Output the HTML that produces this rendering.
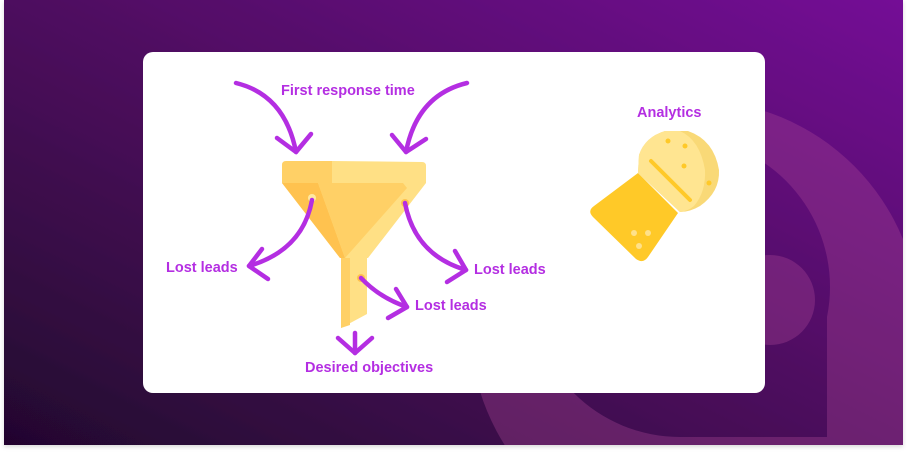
<!DOCTYPE html>
<html><head><meta charset="utf-8"><style>
html,body{margin:0;padding:0;background:#fff;}
body{width:907px;height:453px;overflow:hidden;position:relative;font-family:"Liberation Sans",sans-serif;}
</style></head><body>
<svg width="907" height="453" viewBox="0 0 907 453" style="position:absolute;left:0;top:0">
<defs>
<linearGradient id="bg" x1="0" y1="1" x2="1" y2="0">
<stop offset="0" stop-color="#22062e"/>
<stop offset="0.5" stop-color="#4d0c5e"/>
<stop offset="1" stop-color="#740f96"/>
</linearGradient>
<filter id="sh" x="-5%" y="-5%" width="110%" height="115%"><feDropShadow dx="0" dy="2" stdDeviation="2" flood-color="#000" flood-opacity="0.15"/></filter>
<clipPath id="bgclip"><rect x="4" y="0" width="899" height="445"/></clipPath>
<mask id="ring">
<rect x="0" y="0" width="907" height="453" fill="black"/>
<circle cx="695" cy="325" r="225" fill="white"/>
<rect x="695" y="325" width="230" height="130" fill="white"/>
<circle cx="680" cy="287" r="150" fill="black"/>
<rect x="680" y="287" width="147" height="150" fill="black"/>
<circle cx="770" cy="300" r="45" fill="white"/>
</mask>
</defs>
<rect x="4" y="0" width="899" height="445" fill="url(#bg)" filter="url(#sh)"/>
<g clip-path="url(#bgclip)">
<rect x="0" y="0" width="907" height="453" fill="#b04a9a" opacity="0.33" mask="url(#ring)"/>
</g>
<rect x="143" y="52" width="622" height="341" rx="10" fill="#fff"/>
<!-- funnel -->
<path d="M282,165 Q282,161 286,161 L332,161 L332,183 L282,183 Z" fill="#ffd066"/>
<path d="M332,161 L422,162 Q426,162 426,166 L426,183 L332,183 Z" fill="#ffe085"/>
<path d="M282,183 L426,183 L368,258 L340,258 Z" fill="#ffe085"/>
<path d="M282,183 L318,183 L345,258 L340,258 Z" fill="#ffc24f"/>
<path d="M318,183 L403,183 L407,188 L345,258 Z" fill="#ffd066"/>
<path d="M341,258 L367,258 L367,314 L341,328 Z" fill="#ffe085"/>
<path d="M341,258 L350,258 L350,325 L341,328 Z" fill="#ffd066"/>
<circle cx="312" cy="198" r="4" fill="#ffe9a0"/>
<circle cx="405" cy="203" r="4" fill="#ffc24f"/>
<circle cx="361" cy="278" r="4" fill="#ffc24f"/>
<!-- arrows -->
<g fill="none" stroke="#b42ee2" stroke-width="4.5" stroke-linecap="round" stroke-linejoin="round">
<path d="M236,83 Q285,95 296,152"/><path d="M277,138 L296,152 L311,134"/>
<path d="M467,83 Q417,95 406,152"/><path d="M392,135 L406,152 L426,139"/>
<path d="M312,200 Q303,250 249,266"/><path d="M262,249 L249,266 L268,279"/>
<path d="M405,203 Q415,255 466,270"/><path d="M455,251 L466,270 L447,282"/>
<path d="M361,278 Q380,298 407,307"/><path d="M396,289 L407,307 L388,318"/>
<path d="M355,333 L355,353"/><path d="M338,338 L355,353 L372,338"/>
</g>
<g font-family="Liberation Sans, sans-serif" font-weight="bold" font-size="14.5" fill="#b42ee2">
<text x="281" y="95">First response time</text>
<text x="166" y="272">Lost leads</text>
<text x="474" y="274">Lost leads</text>
<text x="415" y="310">Lost leads</text>
<text x="305" y="372">Desired objectives</text>
<text x="637" y="117">Analytics</text>
</g>
<!-- analytics icon -->
<path d="M638,173 L678,213 L648,257 Q643,264 636,259 L593,217 Q587,211 594,206 Z" fill="#ffc928"/>
<path d="M638,173 L639,155 Q645,137 665,131 L688,131 Q714,140 719,170 Q720,192 700,206 Q690,212 680,212 Z" fill="#f9d977"/>
<path d="M638,173 L639,155 Q645,137 665,131 L680,131 Q700,140 705,170 Q706,192 694,206 Q688,211 680,212 Z" fill="#ffe591"/>
<line x1="651" y1="161" x2="690" y2="200" stroke="#ffc928" stroke-width="4" stroke-linecap="round"/>
<g fill="#ffc928"><circle cx="668" cy="141" r="2.5"/><circle cx="685" cy="146" r="2.5"/><circle cx="684" cy="166" r="2.5"/><circle cx="709" cy="183" r="2.5"/></g>
<g fill="#ffe18a"><circle cx="634" cy="233" r="3"/><circle cx="648" cy="233" r="3"/><circle cx="639" cy="246" r="3"/></g>
</svg>
</body></html>
